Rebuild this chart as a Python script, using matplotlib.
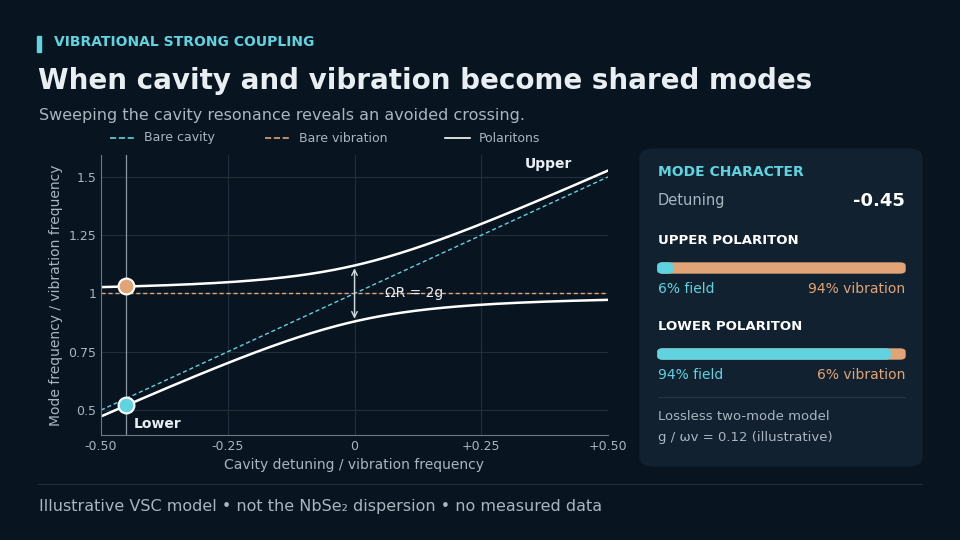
import numpy as np
import matplotlib.pyplot as plt
from matplotlib.patches import FancyBboxPatch, Rectangle

# lossless two-mode model, parameters as stated on the chart
g = 0.12
detuning = np.linspace(-0.5, 0.5, 201)
cavity = 1.0 + detuning
vibration = np.ones_like(detuning)
mean = (cavity + vibration) / 2
split = np.sqrt(g**2 + (detuning / 2)**2)
upper = mean + split
lower = mean - split

d0 = -0.45
upper_d0 = 1.03
lower_d0 = 0.52
upper_field, upper_vib = 6, 94
lower_field, lower_vib = 94, 6

xticks = [-0.5, -0.25, 0, 0.25, 0.5]
xlabels = ['-0.50', '-0.25', '0', '+0.25', '+0.50']
yticks = [0.5, 0.75, 1, 1.25, 1.5]
ylabels = ['0.5', '0.75', '1', '1.25', '1.5']

BG = '#08141f'
PANEL = '#11212f'
CYAN = '#5fd3e0'
ORANGE = '#e0a477'
TXT = '#e8eef2'
MUTED = '#a9b6c0'

fig = plt.figure(figsize=(9.6, 5.4), dpi=100, facecolor=BG)

fig.add_artist(Rectangle((37/960, 1-52/540), 4/960, 16/540, color=CYAN, transform=fig.transFigure))
fig.text(54/960, 1-42/540, 'VIBRATIONAL STRONG COUPLING', color=CYAN, fontsize=10, weight='bold', va='center')
fig.text(38/960, 1-81/540, 'When cavity and vibration become shared modes', color=TXT, fontsize=20, weight='bold', va='center')
fig.text(39/960, 1-115/540, 'Sweeping the cavity resonance reveals an avoided crossing.', color=MUTED, fontsize=11.5, va='center')

ax = fig.add_axes([101/960, 1-435/540, 507/960, 280/540])
ax.set_facecolor(BG)
ax.plot(detuning, cavity, '--', color=CYAN, lw=1, dashes=(3, 2))
ax.plot(detuning, vibration, '--', color=ORANGE, lw=1, dashes=(3, 2))
ax.plot(detuning, upper, color='white', lw=1.8)
ax.plot(detuning, lower, color='white', lw=1.8)
ax.axvline(d0, color='#8a98a4', lw=0.9)
ax.scatter([d0], [upper_d0], s=130, color=ORANGE, edgecolor='white', lw=1.5, zorder=5)
ax.scatter([d0], [lower_d0], s=130, color=CYAN, edgecolor='white', lw=1.5, zorder=5)
ax.annotate('', xy=(0, 1 + g), xytext=(0, 1 - g),
            arrowprops=dict(arrowstyle='<->', color='#cfd8de', lw=1))
ax.text(0.06, 1.0, 'ΩR = 2g', color=TXT, fontsize=10, va='center')
ax.text(0.43, 1.555, 'Upper', color=TXT, fontsize=10, weight='bold', ha='right', va='center')
ax.text(-0.435, 0.44, 'Lower', color=TXT, fontsize=10, weight='bold', va='center')
ax.set_xlim(-0.5, 0.5)
ax.set_ylim(0.393, 1.594)
ax.set_xticks(xticks, xlabels)
ax.set_yticks(yticks, ylabels)
ax.grid(color='#1f2f3c', lw=0.8)
ax.tick_params(colors=MUTED, labelsize=9, length=0)
for s in ['top', 'right']:
    ax.spines[s].set_visible(False)
for s in ['left', 'bottom']:
    ax.spines[s].set_color('#6b7985')
ax.set_xlabel('Cavity detuning / vibration frequency', color=MUTED, fontsize=10)
ax.set_ylabel('Mode frequency / vibration frequency', color=MUTED, fontsize=10)

# legend drawn by hand in figure coords
ly = 1 - 138/540
for x0, col, ls, lab in [(110, CYAN, '--', 'Bare cavity'), (265, ORANGE, '--', 'Bare vibration'), (445, 'white', '-', 'Polaritons')]:
    fig.add_artist(plt.Line2D([x0/960, (x0+25)/960], [ly, ly], color=col, ls=ls, lw=1.2, transform=fig.transFigure))
    fig.text((x0+34)/960, ly, lab, color=MUTED, fontsize=9, va='center')

# side panel
fig.add_artist(FancyBboxPatch((640/960, 1-466/540), 282/960, 317/540,
                              boxstyle='round,pad=0,rounding_size=0.015', color=PANEL, transform=fig.transFigure))
px = 658/960
pr = 905/960
fig.text(px, 1-172/540, 'MODE CHARACTER', color=CYAN, fontsize=10, weight='bold', va='center')
fig.text(px, 1-201/540, 'Detuning', color=MUTED, fontsize=10.5, va='center')
fig.text(pr, 1-201/540, f'{d0:.2f}', color='white', fontsize=13, weight='bold', va='center', ha='right')

def bar(y, title, field, vib):
    fig.text(px, 1-y/540, title, color='white', fontsize=9.5, weight='bold', va='center')
    by = 1-(y+28)/540
    w = pr - px
    h = 10/540
    fig.add_artist(FancyBboxPatch((px, by - h/2), w, h, boxstyle='round,pad=0,rounding_size=0.005',
                                  color=ORANGE, transform=fig.transFigure))
    fig.add_artist(FancyBboxPatch((px, by - h/2), w*field/100, h, boxstyle='round,pad=0,rounding_size=0.005',
                                  color=CYAN, transform=fig.transFigure))
    fig.text(px, 1-(y+49)/540, f'{field}% field', color=CYAN, fontsize=10, va='center')
    fig.text(pr, 1-(y+49)/540, f'{vib}% vibration', color=ORANGE, fontsize=10, va='center', ha='right')

bar(240, 'UPPER POLARITON', upper_field, upper_vib)
bar(326, 'LOWER POLARITON', lower_field, lower_vib)
fig.add_artist(plt.Line2D([px, pr], [1-397/540]*2, color='#243543', lw=0.8, transform=fig.transFigure))
fig.text(px, 1-416/540, 'Lossless two-mode model', color=MUTED, fontsize=9.5, va='center')
fig.text(px, 1-438/540, 'g / ωv = 0.12 (illustrative)', color=MUTED, fontsize=9.5, va='center')

fig.add_artist(plt.Line2D([38/960, 922/960], [1-484/540]*2, color='#1f2f3c', lw=0.8, transform=fig.transFigure))
fig.text(39/960, 1-507/540, 'Illustrative VSC model • not the NbSe₂ dispersion • no measured data',
         color=MUTED, fontsize=11.5, va='center')

fig.savefig('out.png', dpi=100, facecolor=BG)
